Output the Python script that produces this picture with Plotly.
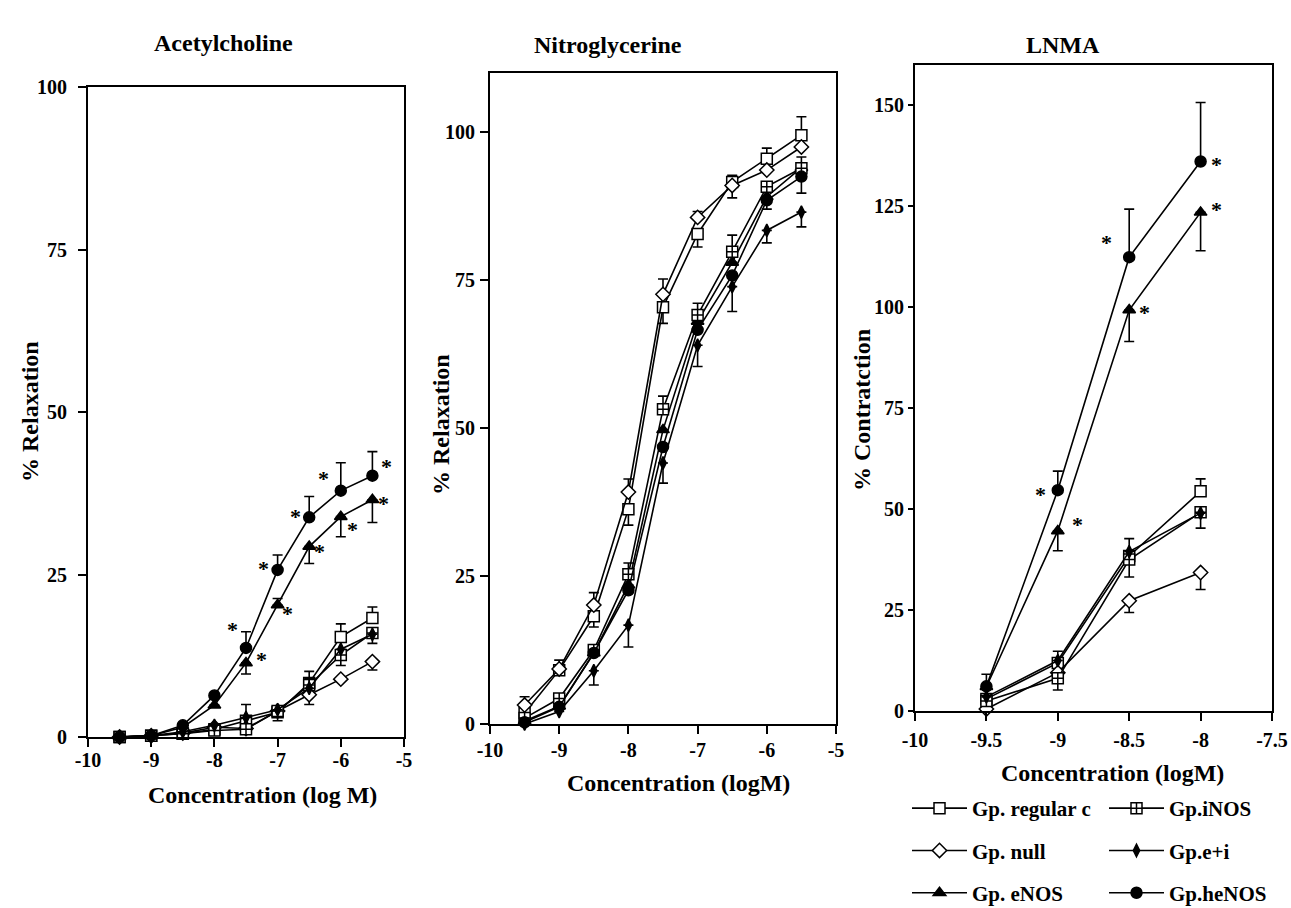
import math
import plotly.graph_objects as go

W, H = 1291, 908

# ---------------- data ----------------
NAMES = ["Gp. regular c", "Gp. null", "Gp. eNOS", "Gp.iNOS", "Gp.e+i", "Gp.heNOS"]

# Acetylcholine
ACH_X = [-9.5, -9, -8.5, -8, -7.5, -7, -6.5, -6, -5.5]
ACH_REG = [0, 0.2, 0.5, 1.2, 2.5, 3.8, 8.3, 15.4, 18.3]
ACH_NULL = [0, 0.2, 0.6, 1.5, 1.3, 4.0, 6.5, 8.9, 11.6]
ACH_ENOS = [0, 0.2, 1.5, 4.9, 11.4, 20.3, 29.3, 33.9, 36.5]
ACH_INOS = [0, 0.2, 0.5, 1.0, 1.2, 4.0, 8.0, 12.6, 16.0]
ACH_EI = [0, 0.2, 0.8, 1.8, 3.0, 4.2, 7.5, 13.5, 15.8]
ACH_HENOS = [0, 0.2, 1.8, 6.4, 13.7, 25.7, 33.8, 37.9, 40.2]
ACH_REG_UP = [0, 0, 0, 0, 0, 0, 1.8, 2.0, 1.7]
ACH_REG_DN = [0, 0, 0, 0, 0, 0, 0, 0, 0]
ACH_NULL_UP = [0, 0, 0, 0, 0, 0, 0, 0, 0]
ACH_NULL_DN = [0, 0, 0, 0, 0, 0, 1.5, 0, 1.3]
ACH_ENOS_UP = [0, 0, 0, 0, 0, 1.0, 0, 0, 0]
ACH_ENOS_DN = [0, 0, 0, 0, 1.7, 0, 2.6, 3.1, 3.5]
ACH_INOS_UP = [0, 0, 0, 0, 0, 0, 0, 0, 0]
ACH_INOS_DN = [0, 0, 0, 0, 0, 1.5, 0, 1.6, 1.6]
ACH_EI_UP = [0, 0, 0, 0, 2.0, 0, 1.5, 0, 0]
ACH_EI_DN = [0, 0, 0, 0, 0, 0, 0, 0, 0]
ACH_HENOS_UP = [0, 0, 0, 0, 2.5, 2.3, 3.2, 4.3, 3.7]
ACH_HENOS_DN = [0, 0, 0, 0, 0, 0, 0, 0, 0]

# Nitroglycerine
NTG_X = [-9.5, -9, -8.5, -8, -7.5, -7, -6.5, -6, -5.5]
NTG_REG = [1.8, 9.1, 18.2, 36.3, 70.4, 82.8, 91.6, 95.5, 99.5]
NTG_NULL = [3.2, 9.3, 20.1, 39.2, 72.6, 85.6, 91.0, 93.6, 97.5]
NTG_ENOS = [0.5, 3.0, 12.0, 23.5, 49.7, 68.0, 78.0, 89.1, 94.0]
NTG_INOS = [1.0, 4.3, 12.5, 25.3, 53.2, 69.1, 79.8, 90.8, 93.9]
NTG_EI = [0.0, 2.1, 9.0, 16.7, 44.1, 64.0, 73.9, 83.4, 86.5]
NTG_HENOS = [0.3, 2.9, 12.0, 22.6, 46.8, 66.6, 75.8, 88.5, 92.5]
NTG_REG_UP = [0, 1.7, 0, 0, 0, 0, 1.1, 1.8, 3.1]
NTG_REG_DN = [0, 0, 1.8, 2.7, 2.7, 2.2, 0, 0, 0]
NTG_NULL_UP = [1.4, 0, 2.1, 2.2, 2.6, 1.0, 0, 0, 0]
NTG_NULL_DN = [0, 0, 0, 0, 0, 0, 2.1, 0, 0]
NTG_ENOS_UP = [0, 0, 0, 0, 0, 0, 0, 0, 0]
NTG_ENOS_DN = [0, 0, 0, 0, 0, 0, 0, 0, 0]
NTG_INOS_UP = [0, 0, 0, 1.9, 2.2, 2.0, 2.8, 0, 1.9]
NTG_INOS_DN = [0, 0, 0, 0, 0, 0, 0, 0, 0]
NTG_EI_UP = [0, 0, 0, 0, 0, 0, 0, 0, 0]
NTG_EI_DN = [0, 0, 2.4, 3.7, 3.4, 3.6, 4.2, 2.1, 2.5]
NTG_HENOS_UP = [0, 0, 0, 0, 0, 0, 0, 0, 0]
NTG_HENOS_DN = [0, 0, 0, 0, 0, 0, 0, 1.5, 2.8]

# LNMA
LNMA_X = [-9.5, -9, -8.5, -8]
LNMA_REG = [3.0, 11.9, 38.4, 54.4]
LNMA_NULL = [0.5, 9.5, 27.3, 34.3]
LNMA_ENOS = [6.0, 44.6, 99.3, 123.5]
LNMA_INOS = [2.5, 8.1, 37.5, 49.2]
LNMA_EI = [3.5, 12.5, 39.5, 49.0]
LNMA_HENOS = [6.1, 54.7, 112.4, 136.1]
LNMA_REG_UP = [0, 2.9, 0, 3.1]
LNMA_REG_DN = [0, 0, 0, 0]
LNMA_NULL_UP = [0, 0, 0, 0]
LNMA_NULL_DN = [0, 0, 2.9, 4.2]
LNMA_ENOS_UP = [0, 0, 0, 0]
LNMA_ENOS_DN = [0, 4.9, 7.8, 9.5]
LNMA_INOS_UP = [0, 0, 0, 0]
LNMA_INOS_DN = [0, 2.9, 4.3, 3.9]
LNMA_EI_UP = [3.0, 0, 3.2, 0]
LNMA_EI_DN = [0, 0, 0, 0]
LNMA_HENOS_UP = [3.0, 4.7, 11.9, 14.6]
LNMA_HENOS_DN = [0, 0, 0, 0]

# significance stars: (series, point index, dx, dy)
ACH_STARS = [("Gp.heNOS", 4, -0.21, 3.8), ("Gp.heNOS", 5, -0.23, 1.2), ("Gp.heNOS", 6, -0.22, 1.1),
             ("Gp.heNOS", 7, -0.28, 2.8), ("Gp.heNOS", 8, 0.23, 2.3),
             ("Gp. eNOS", 4, 0.25, 1.5), ("Gp. eNOS", 5, 0.15, -0.3), ("Gp. eNOS", 6, 0.17, 0.2),
             ("Gp. eNOS", 7, 0.18, -1.0), ("Gp. eNOS", 8, 0.17, 0.4)]
LNMA_STARS = [("Gp.heNOS", 1, -0.12, 0.3), ("Gp.heNOS", 2, -0.16, 5.2), ("Gp.heNOS", 3, 0.11, 0.8),
              ("Gp. eNOS", 1, 0.14, 3.1), ("Gp. eNOS", 2, 0.11, 0.9), ("Gp. eNOS", 3, 0.11, 2.1)]

# tick labels
ACH_XTICKS = [-10, -9, -8, -7, -6, -5]
ACH_XTEXT = ["-10", "-9", "-8", "-7", "-6", "-5"]
ACH_YTICKS = [0, 25, 50, 75, 100]
NTG_XTICKS = [-10, -9, -8, -7, -6, -5]
NTG_XTEXT = ["-10", "-9", "-8", "-7", "-6", "-5"]
NTG_YTICKS = [0, 25, 50, 75, 100]
LNMA_XTICKS = [-10, -9.5, -9, -8.5, -8, -7.5]
LNMA_XTEXT = ["-10", "-9.5", "-9", "-8.5", "-8", "-7.5"]
LNMA_YTICKS = [0, 25, 50, 75, 100, 125, 150]

# ---------------- styles ----------------
FONT = "Liberation Serif, Times New Roman, serif"
TICK_SIZE = 20
TITLE_SIZE = 24
AXTITLE_SIZE = 24
LEGEND_SIZE = 21
STYLE = {
    "Gp. regular c": dict(symbol="square", color="white", size=11),
    "Gp. null": dict(symbol="diamond", color="white", size=11),
    "Gp. eNOS": dict(symbol="triangle-up", color="black", size=11),
    "Gp.iNOS": dict(symbol="square-cross", color="white", size=11),
    "Gp.e+i": dict(symbol="diamond-tall", color="black", size=9),
    "Gp.heNOS": dict(symbol="circle", color="black", size=11),
}
LEGEND_OF = {"Gp. regular c": "legend", "Gp. null": "legend", "Gp. eNOS": "legend",
             "Gp.iNOS": "legend2", "Gp.e+i": "legend2", "Gp.heNOS": "legend2"}


def err(up, dn):
    a, b = [], []
    for u, d in zip(up, dn):
        if u == 0 and d == 0:
            a.append(float("nan")); b.append(float("nan"))
        else:
            a.append(u); b.append(d)
    return a, b


panels = [
    dict(x=ACH_X, ax="", stars=ACH_STARS, series={
        "Gp. regular c": (ACH_REG, ACH_REG_UP, ACH_REG_DN),
        "Gp. null": (ACH_NULL, ACH_NULL_UP, ACH_NULL_DN),
        "Gp. eNOS": (ACH_ENOS, ACH_ENOS_UP, ACH_ENOS_DN),
        "Gp.iNOS": (ACH_INOS, ACH_INOS_UP, ACH_INOS_DN),
        "Gp.e+i": (ACH_EI, ACH_EI_UP, ACH_EI_DN),
        "Gp.heNOS": (ACH_HENOS, ACH_HENOS_UP, ACH_HENOS_DN)}),
    dict(x=NTG_X, ax="2", stars=[], series={
        "Gp. regular c": (NTG_REG, NTG_REG_UP, NTG_REG_DN),
        "Gp. null": (NTG_NULL, NTG_NULL_UP, NTG_NULL_DN),
        "Gp. eNOS": (NTG_ENOS, NTG_ENOS_UP, NTG_ENOS_DN),
        "Gp.iNOS": (NTG_INOS, NTG_INOS_UP, NTG_INOS_DN),
        "Gp.e+i": (NTG_EI, NTG_EI_UP, NTG_EI_DN),
        "Gp.heNOS": (NTG_HENOS, NTG_HENOS_UP, NTG_HENOS_DN)}),
    dict(x=LNMA_X, ax="3", stars=LNMA_STARS, series={
        "Gp. regular c": (LNMA_REG, LNMA_REG_UP, LNMA_REG_DN),
        "Gp. null": (LNMA_NULL, LNMA_NULL_UP, LNMA_NULL_DN),
        "Gp. eNOS": (LNMA_ENOS, LNMA_ENOS_UP, LNMA_ENOS_DN),
        "Gp.iNOS": (LNMA_INOS, LNMA_INOS_UP, LNMA_INOS_DN),
        "Gp.e+i": (LNMA_EI, LNMA_EI_UP, LNMA_EI_DN),
        "Gp.heNOS": (LNMA_HENOS, LNMA_HENOS_UP, LNMA_HENOS_DN)}),
]

fig = go.Figure()
annotations = []
for pi, p in enumerate(panels):
    for name in NAMES:
        ys, up, dn = p["series"][name]
        a, b = err(up, dn)
        st = STYLE[name]
        fig.add_trace(go.Scatter(
            x=p["x"], y=ys, name=name, mode="lines+markers",
            xaxis="x" + p["ax"], yaxis="y" + p["ax"],
            line=dict(color="black", width=1.6),
            marker=dict(symbol=st["symbol"], size=st["size"], color=st["color"],
                        line=dict(color="black", width=1.5)),
            error_y=dict(type="data", symmetric=False, array=a, arrayminus=b,
                         color="black", thickness=1.6, width=5),
            cliponaxis=False,
            showlegend=(pi == 2), legend=LEGEND_OF[name], legendgroup=name,
        ))
    for (name, idx, dx, dy) in p["stars"]:
        ys = p["series"][name][0]
        annotations.append(dict(
            x=p["x"][idx] + dx, y=ys[idx] + dy, xref="x" + p["ax"], yref="y" + p["ax"],
            text="*", showarrow=False, yshift=-6,
            font=dict(family=FONT, size=22, color="black", weight="bold")))


def px(xp, yp):
    return xp / W, 1 - yp / H


def axis_common():
    return dict(showline=True, linewidth=2, linecolor="black", mirror=True,
                ticks="outside", tickwidth=2, tickcolor="black",
                showgrid=False, zeroline=False, automargin=False,
                tickfont=dict(family=FONT, size=TICK_SIZE, color="black", weight="bold"))


lay = dict(width=W, height=H, margin=dict(l=0, r=0, t=0, b=0, autoexpand=False),
           plot_bgcolor="white", paper_bgcolor="white",
           font=dict(family=FONT, size=TICK_SIZE, color="black", weight="bold"))

# left panel
lay["xaxis"] = dict(domain=[88 / W, 404 / W], range=[-10, -5], tickvals=ACH_XTICKS,
                    ticktext=ACH_XTEXT, anchor="y", ticklen=8, ticklabelstandoff=-4, **axis_common())
lay["yaxis"] = dict(domain=[1 - 737 / H, 1 - 87 / H], range=[0, 100], tickvals=ACH_YTICKS,
                    anchor="x", ticklen=8, ticklabelstandoff=7, **axis_common())
# middle
lay["xaxis2"] = dict(domain=[490 / W, 836 / W], range=[-10, -5], tickvals=NTG_XTICKS,
                     ticktext=NTG_XTEXT, anchor="y2", ticklen=8, ticklabelstandoff=-1, **axis_common())
lay["yaxis2"] = dict(domain=[1 - 724 / H, 1 - 73 / H], range=[0, 110], tickvals=NTG_YTICKS,
                     anchor="x2", ticklen=8, ticklabelstandoff=1, **axis_common())
# right
lay["xaxis3"] = dict(domain=[915 / W, 1272 / W], range=[-10, -7.5], tickvals=LNMA_XTICKS,
                     ticktext=LNMA_XTEXT, anchor="y3", ticklen=8, ticklabelstandoff=2, **axis_common())
lay["yaxis3"] = dict(domain=[1 - 711 / H, 1 - 65 / H], range=[0, 160], tickvals=LNMA_YTICKS,
                     anchor="x3", ticklen=5, ticklabelstandoff=0, **axis_common())

texts = [
    ("Acetylcholine", 223, 43, 0, TITLE_SIZE), ("Nitroglycerine", 608, 45, 0, TITLE_SIZE),
    ("LNMA", 1063, 45, 0, TITLE_SIZE),
    ("% Relaxation", 30, 412, -90, AXTITLE_SIZE), ("% Relaxation", 441, 425, -90, AXTITLE_SIZE),
    ("% Contratction", 862, 410, -90, AXTITLE_SIZE),
    ("Concentration (log M)", 262, 795, 0, AXTITLE_SIZE), ("Concentration (logM)", 678, 783, 0, AXTITLE_SIZE),
    ("Concentration (logM)", 1112, 773, 0, AXTITLE_SIZE),
]
for t, xp, yp, ang, size in texts:
    x, y = px(xp, yp)
    annotations.append(dict(text=t, x=x, y=y, xref="paper", yref="paper", showarrow=False,
                            textangle=ang, xanchor="center", yanchor="middle",
                            font=dict(family=FONT, size=size, color="black", weight="bold")))
lay["annotations"] = annotations

legend_common = dict(xanchor="left", yanchor="top", bgcolor="rgba(0,0,0,0)",
                     font=dict(family=FONT, size=LEGEND_SIZE, color="black", weight="bold"),
                     itemwidth=55, tracegroupgap=12, traceorder="grouped", orientation="v")
lx1, ly = px(907, 788)
lx2, _ = px(1104, 788)
lay["legend"] = dict(x=lx1, y=ly, **legend_common)
lay["legend2"] = dict(x=lx2, y=ly, **legend_common)

fig.update_layout(**lay)
fig.write_html("out.html", config={"displayModeBar": False},
               post_script="document.body.style.margin='0';document.body.style.overflow='hidden';")
